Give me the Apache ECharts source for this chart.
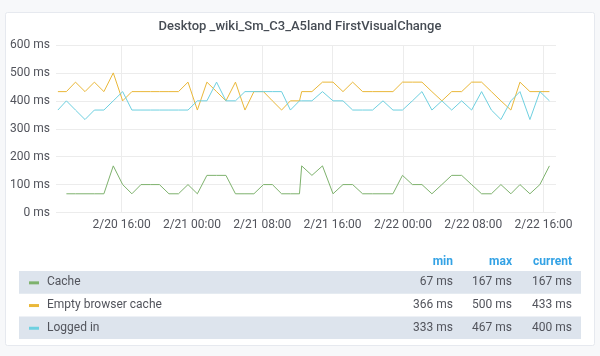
<!DOCTYPE html>
<html>
<head>
<meta charset="utf-8">
<script src="https://cdn.jsdelivr.net/npm/echarts@6/dist/echarts.min.js"></script>
<style>
html,body{margin:0;padding:0;background:#f7f8fa;}
#c{width:600px;height:356px;}
</style>
</head>
<body>
<div id="c"></div>
<script>
const titleText = 'Desktop _wiki_Sm_C3_A5land FirstVisualChange';
const seriesNames = ['Cache', 'Empty browser cache', 'Logged in'];
const seriesColors = ['#7eb26d', '#eab839', '#6ed0e0'];
const times = [
 '2019-02-20 08:45','2019-02-20 09:43','2019-02-20 10:45','2019-02-20 11:50','2019-02-20 12:54',
 '2019-02-20 13:59','2019-02-20 15:03','2019-02-20 16:07','2019-02-20 17:10','2019-02-20 18:12',
 '2019-02-20 19:17','2019-02-20 20:18','2019-02-20 21:23','2019-02-20 22:28','2019-02-20 23:33',
 '2019-02-21 00:37','2019-02-21 01:42','2019-02-21 02:48','2019-02-21 03:52','2019-02-21 04:57',
 '2019-02-21 06:02','2019-02-21 07:03','2019-02-21 08:08','2019-02-21 09:09','2019-02-21 10:12',
 '2019-02-21 11:12','2019-02-21 12:14','2019-02-21 12:29','2019-02-21 13:39','2019-02-21 14:51',
 '2019-02-21 16:03','2019-02-21 17:11','2019-02-21 18:17','2019-02-21 19:25','2019-02-21 20:33',
 '2019-02-21 21:44','2019-02-21 22:52','2019-02-21 23:57','2019-02-22 01:05','2019-02-22 02:10',
 '2019-02-22 03:18','2019-02-22 04:26','2019-02-22 05:33','2019-02-22 06:41','2019-02-22 07:49',
 '2019-02-22 08:57','2019-02-22 10:04','2019-02-22 11:09','2019-02-22 12:17','2019-02-22 13:19',
 '2019-02-22 14:27','2019-02-22 15:35','2019-02-22 16:40'
];
const cache = [null,67,67,67,67,67,167,100,67,100,100,100,67,67,100,67,133,133,133,67,67,67,100,100,67,67,67,167,133,167,67,100,100,67,67,67,67,133,100,100,67,100,133,133,100,67,67,100,67,100,67,100,167];
const emptyCache = [433,433,467,433,467,433,500,400,433,433,433,433,433,433,467,367,467,433,400,467,367,433,433,400,367,400,400,433,433,467,467,433,467,433,433,433,433,467,467,467,433,400,433,433,467,467,433,400,367,467,433,433,433];
const loggedIn = [367,400,367,333,367,367,400,433,367,367,367,367,367,367,367,400,400,467,400,400,433,433,433,433,433,367,400,400,400,433,400,400,367,367,367,400,367,367,400,433,367,400,367,400,367,433,367,333,400,433,333,433,400];
const xTickTimes = ['2019-02-20 16:00','2019-02-21 00:00','2019-02-21 08:00','2019-02-21 16:00','2019-02-22 00:00','2019-02-22 08:00','2019-02-22 16:00'];
const legendHeaders = ['min', 'max', 'current'];
const legendMin = ['67 ms', '366 ms', '333 ms'];
const legendMax = ['167 ms', '500 ms', '467 ms'];
const legendCurrent = ['167 ms', '433 ms', '400 ms'];
const xMin = '2019-02-20 08:32';
const xMax = '2019-02-22 17:25';
const yTicks = {min: 0, max: 600, interval: 100};

const FONT = 'Roboto, "Noto Sans", sans-serif';
const TXT = '#52545c';
const allSeries = [cache, emptyCache, loggedIn];
const toTs = s => { const [d, t] = s.split(' '); const [Y, M, D] = d.split('-').map(Number); const [h, m] = t.split(':').map(Number); return new Date(Y, M - 1, D, h, m).getTime(); };
const tickValues = xTickTimes.map(toTs);

const chart = echarts.init(document.getElementById('c'), null, {renderer: 'canvas'});

const graphics = [];
graphics.push({type:'rect', z:-10, silent:true, shape:{x:5.5,y:12.5,width:589,height:333,r:2}, style:{fill:'#ffffff', stroke:'#e6e9ef', lineWidth:1}});
const colX = [453, 512, 572];
legendHeaders.forEach((h,i)=>{
  graphics.push({type:'text', style:{text:h, x:colX[i], y:262, align:'right', verticalAlign:'middle', fill:'#33a2e5', font:'bold 12px ' + FONT}});
});
const rowTop = 271, rowH = 22.7;
seriesNames.forEach((name,i)=>{
  const cy = rowTop + rowH*i + rowH/2;
  if (i % 2 === 0) {
    graphics.push({type:'rect', z:-5, silent:true, shape:{x:19,y:rowTop+rowH*i,width:562,height:rowH}, style:{fill:'#dde4ed'}});
  }
  graphics.push({type:'rect', shape:{x:29,y:cy-1,width:10,height:3}, style:{fill:seriesColors[i]}});
  graphics.push({type:'text', style:{text:name, x:47, y:cy, align:'left', verticalAlign:'middle', fill:TXT, font:'12px ' + FONT}});
  [legendMin[i], legendMax[i], legendCurrent[i]].forEach((v,j)=>{
    graphics.push({type:'text', style:{text:v, x:colX[j], y:cy, align:'right', verticalAlign:'middle', fill:TXT, font:'12px ' + FONT}});
  });
});

const pad = n => (n < 10 ? '0' : '') + n;

chart.setOption({
  animation: false,
  backgroundColor: '#f7f8fa',
  title: {text: titleText, left: 'center', top: 15, textStyle: {fontSize: 13, fontWeight: 500, color: '#464c54', fontFamily: FONT}},
  grid: {left: 56, right: 44, top: 45, bottom: 143.5, containLabel: false},
  xAxis: {
    type: 'value', min: toTs(xMin), max: toTs(xMax), scale: true,
    axisLine: {show: false},
    axisTick: {show: false, customValues: tickValues},
    splitLine: {show: true, lineStyle: {color: '#ececec', width: 1}},
    axisLabel: {
      customValues: tickValues,
      color: TXT, fontSize: 12, fontFamily: FONT, margin: 6,
      formatter: function (v) { const d = new Date(v); return (d.getMonth()+1) + '/' + d.getDate() + ' ' + pad(d.getHours()) + ':' + pad(d.getMinutes()); }
    }
  },
  yAxis: {
    type: 'value', min: yTicks.min, max: yTicks.max, interval: yTicks.interval,
    axisLine: {show: false}, axisTick: {show: false},
    splitLine: {lineStyle: {color: '#ececec', width: 1}},
    axisLabel: {color: TXT, fontSize: 12, fontFamily: FONT, margin: 6, formatter: '{value} ms'}
  },
  series: seriesNames.map((name,i)=>({
    name: name, type: 'line', symbol: 'none', showSymbol: false,
    data: times.map((t,k)=>[toTs(t), allSeries[i][k]]),
    lineStyle: {color: seriesColors[i], width: 1},
    itemStyle: {color: seriesColors[i]},
    emphasis: {disabled: true}
  })),
  graphic: graphics
});
</script>
</body>
</html>
